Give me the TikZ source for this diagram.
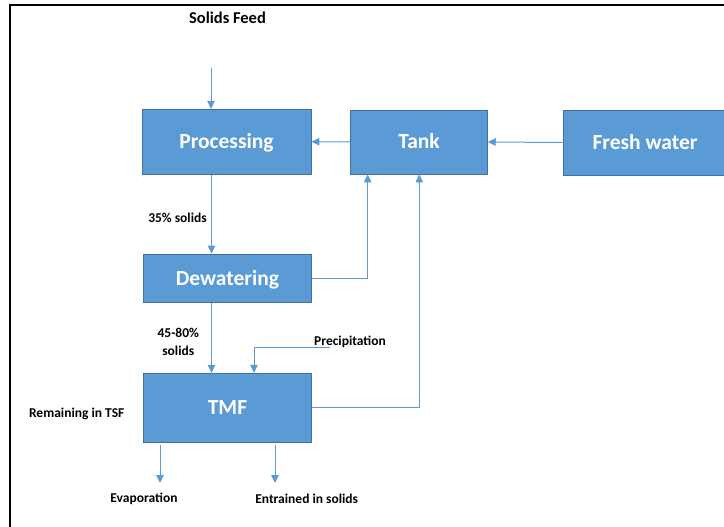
\documentclass[tikz,border=0pt]{standalone}
\usepackage{fontspec}
\setmainfont{Carlito}
\usetikzlibrary{arrows.meta}
\definecolor{boxfill}{HTML}{5B9BD5}
\definecolor{boxline}{HTML}{41719C}
\definecolor{arrcol}{HTML}{5B9BD5}
\tikzset{
  blockbox/.style={draw=boxline, line width=0.9pt, fill=boxfill, text=white, inner sep=0pt,
    text height=13.9pt, text depth=0pt,
    font=\fontsize{21.5}{24}\selectfont\bfseries},
  lbl/.style={inner sep=0pt, font=\fontsize{13.5}{17.4}\selectfont\bfseries, text=black},
  arr/.style={draw=arrcol, line width=1pt, -{Triangle[length=8pt,width=7.5pt]}},
  frameline/.style={draw=black, line width=2pt}
}
\begin{document}
\begin{tikzpicture}[x=1pt,y=-1pt]
\useasboundingbox (0,0) rectangle (724,527);
% frame
\draw[frameline] (10,527) -- (10,5) -- (724,5);
% boxes
\node[blockbox, minimum width=169pt, minimum height=64.7pt] (proc) at (226.5,141.7) {Processing};
\node[blockbox, minimum width=136.6pt, minimum height=64pt] (tank) at (419,142) {Tank};
\node[blockbox, minimum width=164pt, minimum height=65pt] (fresh) at (645,142.5) {Fresh water};
\node[blockbox, minimum width=168.4pt, minimum height=48.7pt] (dew) at (227.5,278.4) {Dewatering};
\node[blockbox, minimum width=168.4pt, minimum height=69pt] (tmf) at (227.5,407.8) {TMF};
% labels
\node[lbl, font=\fontsize{16.5}{19}\selectfont\bfseries] (feed) at (227.5,17.5) {Solids Feed};
\node[lbl] (l35) at (177.5,217.5) {35\% solids};
\node[lbl, align=center] (l45) at (178.3,342) {45-80\%\\solids};
\node[lbl] (prec) at (350,341.5) {Precipitation};
\node[lbl] (rem) at (76.7,414) {Remaining in TSF};
\node[lbl] (evap) at (144,499) {Evaporation};
\node[lbl] (entr) at (306.7,499) {Entrained in solids};
% coordinates
\coordinate (cx1) at (211.5,0);
\coordinate (feedstart) at (211,68);
\coordinate (precstart) at (330,347.3);
\coordinate (precx) at (254,0);
\coordinate (dewx) at (367.7,0);
\coordinate (tmfx) at (419.3,0);
\coordinate (ev1) at (160,445);
\coordinate (ev2) at (160,483);
\coordinate (en1) at (275,445);
\coordinate (en2) at (275,483);
% connectors
\draw[arr] (feedstart) -- (feedstart |- proc.north);
\draw[arr] (proc.south -| cx1) -- (dew.north -| cx1);
\draw[arr] (dew.south -| cx1) -- (tmf.north -| cx1);
\draw[arr] (fresh.west) -- (tank.east);
\draw[arr] (tank.west) -- (proc.east);
\draw[arr] (dew.east) -| (tank.south -| dewx);
\draw[arr] (tmf.east) -| (tank.south -| tmfx);
\draw[arr] (precstart) -| (tmf.north -| precx);
\draw[arr] (ev1) -- (ev2);
\draw[arr] (en1) -- (en2);
\end{tikzpicture}
\end{document}
